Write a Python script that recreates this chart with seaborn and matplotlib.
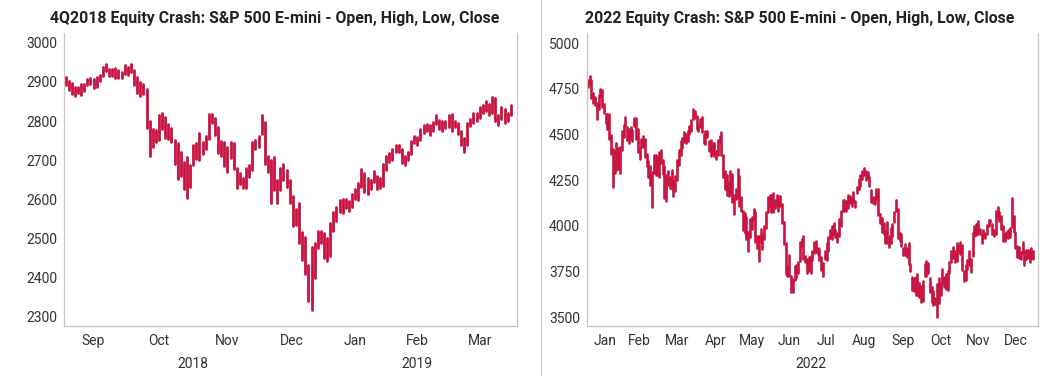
import numpy as np
import pandas as pd
import matplotlib
matplotlib.use("Agg")
import matplotlib.pyplot as plt
import matplotlib.transforms as mtrans
from matplotlib.lines import Line2D
import seaborn as sns

# ---- 4Q2018 panel: daily high / low (S&P 500 E-mini), Sep 2018 - Mar 2019 ----
months_18 = ["Sep", "Oct", "Nov", "Dec", "Jan", "Feb", "Mar"]
days_18 = [19, 23, 21, 20, 21, 19, 21]
years_18 = ["2018", "2019"]
year_months_18 = [4, 3]

hi_18 = [2912, 2902, 2897, 2887, 2888, 2894, 2895, 2908, 2911, 2908, 2912, 2918, 2938, 2946, 2933, 2934, 2936, 2930, 2925,
         2943, 2937, 2945, 2930, 2913, 2900, 2895, 2883, 2800, 2780, 2778, 2815, 2820, 2810, 2793, 2783, 2753, 2745, 2720, 2695, 2708, 2687, 2738,
         2745, 2770, 2748, 2762, 2818, 2818, 2808, 2785, 2750, 2748, 2735, 2748, 2745, 2680, 2667, 2655, 2680, 2688, 2748, 2752, 2762,
         2815, 2798, 2712, 2700, 2708, 2650, 2680, 2690, 2675, 2650, 2610, 2575, 2592, 2518, 2505, 2433, 2478, 2490, 2520, 2520,
         2515, 2502, 2540, 2568, 2580, 2598, 2600, 2602, 2595, 2615, 2628, 2643, 2678, 2668, 2655, 2650, 2673, 2660, 2655, 2690, 2712,
         2718, 2728, 2740, 2738, 2730, 2712, 2722, 2750, 2762, 2760, 2780, 2790, 2792, 2790, 2797, 2815, 2803, 2800, 2800,
         2815, 2818, 2800, 2795, 2775, 2758, 2795, 2805, 2822, 2820, 2835, 2842, 2852, 2845, 2862, 2860, 2815, 2835, 2830, 2822, 2840]
lo_18 = [2891, 2880, 2870, 2864, 2871, 2866, 2878, 2891, 2895, 2885, 2887, 2903, 2914, 2928, 2914, 2916, 2911, 2911, 2910,
         2920, 2918, 2925, 2891, 2873, 2865, 2869, 2782, 2712, 2733, 2748, 2752, 2780, 2756, 2755, 2746, 2690, 2652, 2660, 2628, 2603, 2631, 2688,
         2703, 2700, 2715, 2730, 2755, 2795, 2765, 2718, 2712, 2685, 2670, 2705, 2678, 2630, 2640, 2630, 2630, 2658, 2675, 2730, 2735,
         2768, 2690, 2670, 2590, 2625, 2590, 2625, 2650, 2632, 2590, 2533, 2535, 2490, 2445, 2410, 2340, 2317, 2400, 2475, 2490,
         2450, 2443, 2455, 2520, 2545, 2568, 2565, 2578, 2570, 2580, 2600, 2598, 2632, 2620, 2615, 2628, 2645, 2628, 2630, 2635, 2675,
         2695, 2700, 2722, 2722, 2692, 2688, 2700, 2715, 2745, 2738, 2752, 2770, 2775, 2765, 2775, 2792, 2780, 2775, 2782,
         2785, 2775, 2785, 2768, 2740, 2722, 2740, 2788, 2795, 2800, 2808, 2822, 2825, 2815, 2820, 2800, 2790, 2805, 2795, 2800, 2815]

# ---- 2022 panel: daily high / low ----
months_22 = ["Jan", "Feb", "Mar", "Apr", "May", "Jun", "Jul", "Aug", "Sep", "Oct", "Nov", "Dec"]
days_22 = [20, 19, 23, 20, 21, 21, 20, 23, 21, 21, 21, 21]
years_22 = ["2022"]
year_months_22 = [12]

hi_22 = [4800, 4818, 4797, 4725, 4707, 4673, 4714, 4749, 4745, 4666, 4611, 4611, 4612, 4494, 4418, 4411, 4453, 4428, 4432, 4517,
         4550, 4595, 4542, 4529, 4539, 4526, 4590, 4589, 4527, 4426, 4473, 4490, 4474, 4394, 4357, 4327, 4294, 4386, 4388,
         4375, 4401, 4416, 4359, 4327, 4276, 4299, 4268, 4303, 4247, 4272, 4358, 4412, 4465, 4481, 4514, 4501, 4520, 4546, 4576, 4637, 4627, 4603,
         4550, 4583, 4593, 4503, 4521, 4521, 4464, 4471, 4453, 4452, 4409, 4471, 4489, 4513, 4385, 4300, 4278, 4240, 4300, 4285,
         4169, 4200, 4308, 4270, 4157, 4081, 4068, 4050, 3965, 4039, 4048, 4090, 4077, 3946, 3943, 3981, 3955, 3999, 4075, 4158, 4168,
         4166, 4177, 4143, 4168, 4165, 4165, 4120, 4020, 3905, 3778, 3837, 3727, 3707, 3780, 3784, 3803, 3913, 3928, 3946, 3836, 3818,
         3829, 3832, 3864, 3910, 3919, 3880, 3874, 3829, 3796, 3864, 3903, 3940, 3975, 3999, 4013, 3976, 3962, 4039, 4079, 4141,
         4140, 4135, 4167, 4162, 4152, 4187, 4138, 4211, 4257, 4280, 4301, 4318, 4302, 4293, 4265, 4195, 4159, 4156, 4200, 4203, 4062, 4044, 4015,
         3970, 4019, 3942, 3987, 4010, 4076, 4140, 4090, 3962, 3956, 3880, 3900, 3878, 3908, 3790, 3721, 3715, 3718, 3733, 3687, 3671,
         3698, 3791, 3807, 3797, 3712, 3666, 3640, 3606, 3682, 3712, 3689, 3762, 3719, 3737, 3754, 3803, 3862, 3886, 3859, 3905, 3893,
         3911, 3894, 3751, 3786, 3813, 3860, 3818, 3960, 4001, 4008, 4028, 3983, 3954, 3979, 3962, 4005, 4033, 4034, 4012, 3976, 4080,
         4100, 4077, 4052, 4001, 3957, 3966, 3977, 3990, 4150, 4052, 3968, 3890, 3884, 3858, 3910, 3859, 3866, 3867, 3868, 3878, 3860]
lo_22 = [4758, 4774, 4699, 4671, 4663, 4582, 4638, 4710, 4650, 4615, 4565, 4531, 4477, 4395, 4212, 4287, 4304, 4309, 4287, 4414,
         4483, 4545, 4470, 4451, 4475, 4466, 4547, 4477, 4401, 4365, 4433, 4430, 4378, 4327, 4267, 4222, 4101, 4287, 4279,
         4279, 4267, 4345, 4284, 4150, 4137, 4223, 4206, 4201, 4161, 4188, 4251, 4335, 4389, 4425, 4460, 4455, 4465, 4501, 4518, 4583, 4589, 4530,
         4518, 4539, 4514, 4451, 4450, 4485, 4408, 4382, 4393, 4381, 4367, 4388, 4455, 4385, 4269, 4201, 4170, 4163, 4175, 4129,
         4062, 4147, 4152, 4107, 4082, 3975, 3958, 3928, 3859, 3938, 3983, 4034, 3912, 3877, 3807, 3909, 3875, 3925, 3985, 4077, 4104,
         4074, 4074, 4098, 4110, 4081, 4107, 4017, 3900, 3735, 3722, 3723, 3639, 3636, 3705, 3716, 3743, 3809, 3889, 3820, 3799, 3739,
         3752, 3742, 3811, 3853, 3858, 3847, 3812, 3758, 3722, 3817, 3813, 3860, 3931, 3927, 3956, 3937, 3911, 3941, 3999, 4080,
         4080, 4079, 4095, 4127, 4107, 4128, 4103, 4177, 4201, 4219, 4256, 4276, 4253, 4263, 4219, 4130, 4124, 4119, 4147, 4057, 4017, 3965, 3954,
         3903, 3906, 3886, 3907, 3945, 4022, 4083, 3932, 3918, 3889, 3838, 3839, 3831, 3789, 3750, 3648, 3644, 3623, 3623, 3611, 3584,
         3587, 3722, 3722, 3742, 3636, 3582, 3568, 3573, 3502, 3579, 3623, 3686, 3666, 3655, 3647, 3743, 3800, 3825, 3803, 3808, 3863,
         3843, 3758, 3698, 3702, 3764, 3786, 3744, 3835, 3944, 3948, 3954, 3954, 3906, 3933, 3933, 3956, 3999, 4021, 3956, 3942, 3955,
         4050, 4026, 3984, 3918, 3919, 3933, 3933, 3936, 3993, 3965, 3880, 3828, 3821, 3816, 3848, 3784, 3818, 3822, 3801, 3825, 3820]

RED = "#C8123F"
SPINE = "#c6c6c6"

sns.set_theme(style="white")
plt.rcParams["font.family"] = ["Roboto", "DejaVu Sans"]

fig = plt.figure(figsize=(10.57, 3.76), dpi=100)
ax1 = fig.add_axes([64 / 1057, 50 / 376, 453 / 1057, 293 / 376])
ax2 = fig.add_axes([587 / 1057, 50 / 376, 451 / 1057, 293 / 376])


def draw(ax, hi, lo, months, days, years, year_months, ylim, yticks, xmax, lw):
    n = len(hi)
    day = np.arange(n) + 0.5
    df = pd.DataFrame({"day": np.repeat(day, 2),
                       "price": np.column_stack([lo, hi]).ravel()})
    sns.lineplot(data=df, x="day", y="price", units="day", estimator=None,
                 sort=False, color=RED, linewidth=lw, ax=ax, legend=False)
    ax.set_xlim(0, xmax)
    ax.set_ylim(*ylim)
    ax.set_yticks(yticks)
    ax.set_xlabel("")
    ax.set_ylabel("")

    bounds = np.concatenate([[0], np.cumsum(days)])
    ax.set_xticks(bounds)
    ax.set_xticklabels([])
    ax.set_xticks((bounds[:-1] + bounds[1:]) / 2, minor=True)
    ax.set_xticklabels(months, minor=True)
    ax.tick_params(axis="x", which="major", length=4, width=0.8, color=SPINE, direction="out")
    ax.tick_params(axis="x", which="minor", length=0, pad=6, labelsize=10, labelcolor="#333333")
    ax.tick_params(axis="y", length=3, width=0.8, color="#e4e4e4", direction="in",
                   pad=5, labelsize=10, labelcolor="#333333")

    tr = mtrans.blended_transform_factory(ax.transData, ax.transAxes)
    mb = np.concatenate([[0], np.cumsum(year_months)])
    for i, yr in enumerate(years):
        c = (bounds[mb[i]] + bounds[mb[i + 1]]) / 2
        ax.text(c, -0.13, yr, transform=tr, ha="center", va="center",
                fontsize=10, color="#333333")

    ax.spines["top"].set_visible(False)
    for s in ("left", "bottom", "right"):
        ax.spines[s].set_color(SPINE)
        ax.spines[s].set_linewidth(0.9)


draw(ax1, hi_18, lo_18, months_18, days_18, years_18, year_months_18,
     (2277, 3025), [2300, 2400, 2500, 2600, 2700, 2800, 2900, 3000], 145.5, 2.0)
draw(ax2, hi_22, lo_22, months_22, days_22, years_22, year_months_22,
     (3451, 5055), [3500, 3750, 4000, 4250, 4500, 4750, 5000], 253.2, 1.9)

fig.text(275 / 1057, 1 - 18 / 376, "4Q2018 Equity Crash: S&P 500 E-mini - Open, High, Low, Close",
         ha="center", va="center", fontsize=11.4, fontweight="bold", color="#222222")
fig.text(800 / 1057, 1 - 18 / 376, "2022 Equity Crash: S&P 500 E-mini - Open, High, Low, Close",
         ha="center", va="center", fontsize=11.4, fontweight="bold", color="#222222")

fig.add_artist(Line2D([541 / 1057, 541 / 1057], [0, 1], transform=fig.transFigure,
                      color="#cfcfcf", linewidth=0.9))

fig.savefig("out.png", dpi=100, facecolor="white")
